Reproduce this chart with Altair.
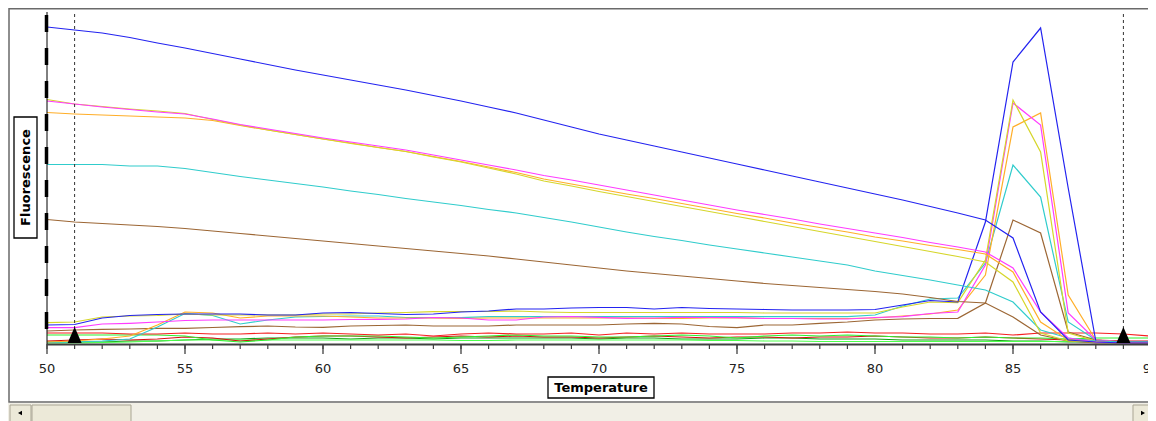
import altair as alt
import pandas as pd

# ---------------- data ----------------
temps = list(range(50, 91))          # temperature steps (deg C)
major_ticks = [50, 55, 60, 65, 70, 75, 80, 85, 90]
marker_temps = [51, 89]               # dashed analysis-window markers

# melt (raw) curves
blue_raw = [317, 314, 311, 306.5, 301, 296, 290.5, 285, 279.5, 274,
            269, 264, 259, 254, 248.5, 243, 237, 231, 224, 217,
            210, 204, 198, 192, 186, 180, 174, 168, 162, 156,
            150, 144, 137.5, 131, 124, 106, 32, 4, 2, 1, 1]
magenta_raw = [243, 240, 237, 234.5, 232, 230, 225, 219.5, 215, 210.5,
               206, 202, 198, 194, 189, 184, 179, 174, 168.5, 164,
               159, 154, 149, 144, 139, 134, 129.5, 125, 120, 115.5,
               111, 106.5, 101.5, 97, 92, 76, 32, 6, 2, 1, 1]
yellow_raw = [244.5, 240, 237.5, 235, 233, 230.5, 224.5, 219, 214, 209.5,
              205, 200.5, 196.5, 192.5, 187, 182, 176, 170, 163, 158,
              152.5, 147.5, 142.5, 137.5, 132.5, 127.5, 122.5, 117.5, 112.5, 107.5,
              102.5, 97.5, 92.5, 87.5, 82, 62, 11, 3, 2, 1, 1]
orange_raw = [231.5, 230, 229, 228, 227, 226, 223.5, 218.5, 214, 209.5,
              205, 201, 196.5, 192.5, 187.5, 182.5, 177, 171.5, 165, 160,
              155, 150, 145.5, 140.5, 135.5, 130.5, 126, 121, 116.5, 112,
              107, 103, 98.5, 94.5, 90, 72, 22, 4, 2, 1, 1]
cyan_raw = [179.5, 179.5, 179.5, 178, 178, 175.5, 171.5, 167.5, 164, 160.5,
            157, 153, 149.5, 145.5, 142, 138.5, 134.5, 131, 126.5, 122,
            117, 112, 107.5, 103.5, 99, 95, 91, 87, 83, 79,
            73, 68.5, 64, 59, 54, 42, 14, 6, 3, 2, 2]
brown_raw = [124.5, 122, 120.5, 119, 117.5, 115.5, 113, 110.5, 108, 105.5,
             103, 100.5, 98, 95.5, 93, 90.5, 88, 85, 82, 79,
             76, 73, 70.5, 68, 65.5, 63, 60.5, 58.5, 56.5, 54.5,
             52.5, 50, 46.5, 42.5, 41, 27, 9, 3, 1, 1, 1]

# derivative curves
blue_d = [19, 19.5, 26, 28.5, 29.5, 30, 30, 30, 29, 29,
          31, 31.5, 30.5, 29.5, 30, 32, 33, 35, 35, 36,
          36.5, 36.5, 35, 36.5, 35.5, 35, 34.5, 34, 34, 34,
          34.5, 39, 43.5, 42, 122, 282, 316, 156, 3, 2, 2]
yellow_d = [21.3, 22, 27, 28, 28.5, 30, 29, 29, 29, 29,
            30, 30, 31, 31.5, 32.3, 32.5, 32.5, 33, 32, 31.5,
            31.5, 31.5, 31.5, 31.5, 31.5, 31.5, 31, 31, 31, 31,
            31, 37, 42, 41.3, 84, 244, 192, 11, 3, 2, 2]
magenta_d = [16.3, 16.3, 20, 20.7, 22, 23.5, 24, 24, 24, 24,
             24, 24.5, 24.7, 25, 26.5, 26, 24, 24, 27, 27.5,
             26.7, 25.7, 26, 26.7, 26.5, 26.3, 25.5, 25.5, 25, 25,
             26.5, 27.3, 30.5, 32, 79, 241, 219, 31, 4, 2, 2]
cyan_d = [1.5, 2, 3, 5, 17, 30.5, 28.5, 20, 24, 27,
          27.5, 28, 28, 26.5, 26.3, 26.3, 27.3, 27.3, 27.3, 27.3,
          27.3, 27.3, 27.3, 27.3, 27.3, 27.3, 27.3, 27.3, 27.3, 27.3,
          29, 38, 45, 46, 81, 179, 147, 22, 4, 2, 2]
orange_d = [2, 3, 5, 8, 19, 32, 31, 26, 28, 28,
            28, 27, 26, 26, 26, 25.5, 26, 26, 26, 26,
            26, 26, 25.5, 25.5, 26, 26, 25.5, 25.5, 25.5, 25.5,
            26, 28, 30, 34, 69, 217, 231, 49, 4, 2, 2]
brown_d = [13, 14, 14.7, 15, 15.7, 15.7, 16.5, 17.3, 18, 17,
           16.7, 18, 18.5, 19, 18, 18, 18, 19, 19, 19,
           19, 20, 20.7, 20, 17.5, 16.3, 19, 19, 20.7, 22,
           24, 25, 25.5, 25.7, 41, 124, 111, 12, 4, 2, 2]

# negative controls
red_1 = [11, 11, 11, 10, 10, 11, 10, 10, 11, 10,
         11, 10, 9, 10, 8, 10, 11, 10, 10, 11,
         9, 11, 10, 11, 10, 10, 10, 11, 11, 12,
         11, 11, 10, 10, 11, 9, 11, 11, 11, 10, 8]
red_2 = [3, 4, 5, 4, 5, 7, 6, 3, 5, 7,
         8, 8, 7, 6, 7, 8, 7, 8, 7, 7,
         6, 7, 8, 7, 6, 7, 7, 6, 7, 7,
         8, 7, 6, 6, 7, 6, 5, 4, 4, 3, 3]
lime_1 = [9, 9, 9, 9, 9, 8, 4, 2, 4, 7,
          8, 8, 8, 7, 6, 7, 8, 9, 8, 8,
          7, 7, 8, 9, 8, 6, 8, 9, 8, 9,
          8, 7, 7, 6, 7, 6, 6, 5, 6, 6, 6]
lime_2 = [1, 1, 1.5, 2, 3, 4, 4, 4, 4, 4,
          4, 4, 4, 4, 4, 3.5, 3.5, 4, 4, 4,
          4, 4, 4, 4, 3.5, 3.5, 3, 3, 2.5, 2.5,
          2.5, 2.5, 2.5, 2.5, 2.5, 2.5, 2.5, 2.5, 2.5, 2.5, 2.5]
dgreen = [2, 2, 2, 3, 3, 4, 5, 5, 6, 6,
          6, 5, 6, 6, 5, 6, 6, 6, 6, 6,
          5, 6, 6, 5, 5, 5, 6, 6, 5, 5,
          5, 4, 4, 4, 4, 3, 3, 2, 2, 1, 1]

series = [
    ("dgreen", dgreen, "#12A012"),
    ("lime_2", lime_2, "#4CFF4C"),
    ("red_2", red_2, "#D41010"),
    ("lime_1", lime_1, "#2EF02E"),
    ("red_1", red_1, "#F52020"),
    ("brown_d", brown_d, "#9C6634"),
    ("cyan_d", cyan_d, "#30CCCC"),
    ("orange_d", orange_d, "#FFAE28"),
    ("magenta_d", magenta_d, "#FF3CFF"),
    ("yellow_d", yellow_d, "#D6D62A"),
    ("blue_d", blue_d, "#2323F0"),
    ("brown_raw", brown_raw, "#9C6634"),
    ("cyan_raw", cyan_raw, "#30CCCC"),
    ("orange_raw", orange_raw, "#FFAE28"),
    ("yellow_raw", yellow_raw, "#D6D62A"),
    ("magenta_raw", magenta_raw, "#FF3CFF"),
    ("blue_raw", blue_raw, "#2323F0"),
]

rows = []
for i, (name, vals, _c) in enumerate(series):
    for t, v in zip(temps, vals):
        rows.append({"series": name, "ord": i, "temp": t, "fluor": v})
df = pd.DataFrame(rows)

names = [s[0] for s in series]
colors = [s[2] for s in series]

# The window allows 1140 px of page width: the visible view is 1101 px wide, while the
# x scale spans 1104 px so that 90 sits right at the window's edge as in the reference.
W, XR, H = 1101, 1104, 332
xs = alt.Scale(domain=[50, 90], range=[0, XR], nice=False, zero=False)
ys = alt.Scale(domain=[0, 332], nice=False, zero=False)
one = alt.Data(values=[{}])

# ---------------- chrome ----------------
frame = alt.Chart(one).mark_rect(fill="white", stroke="#6A6A6A", strokeWidth=1.5).encode(
    x=alt.value(-38), x2=alt.value(1125), y=alt.value(-3.2), y2=alt.value(390))
track = alt.Chart(one).mark_rect(fill="#F1EFE6").encode(
    x=alt.value(-40), x2=alt.value(1112), y=alt.value(391), y2=alt.value(412))
btn_left = alt.Chart(one).mark_rect(fill="#ECE9D8", stroke="#A9A593", strokeWidth=1).encode(
    x=alt.value(-37), x2=alt.value(-16), y=alt.value(393), y2=alt.value(412))
btn_thumb = alt.Chart(one).mark_rect(fill="#ECE9D8", stroke="#A9A593", strokeWidth=1).encode(
    x=alt.value(-15), x2=alt.value(84), y=alt.value(393), y2=alt.value(412))
btn_right = alt.Chart(one).mark_rect(fill="#ECE9D8", stroke="#A9A593", strokeWidth=1).encode(
    x=alt.value(1086), x2=alt.value(1106), y=alt.value(393), y2=alt.value(412))
arr_left = alt.Chart(one).mark_point(shape="triangle-left", filled=True, color="black",
                                     opacity=1, size=22).encode(x=alt.value(-27), y=alt.value(401))
arr_right = alt.Chart(one).mark_point(shape="triangle-right", filled=True, color="black",
                                      opacity=1, size=22).encode(x=alt.value(1096), y=alt.value(401))

# ---------------- x axis drawn from the tick lists ----------------
domain_line = alt.Chart(one).mark_rule(color="#404040", strokeWidth=2).encode(
    x=alt.value(0), x2=alt.value(XR + 2), y=alt.value(H + 0.5))
minor = alt.Chart(pd.DataFrame({"t": temps})).mark_rule(color="#404040", strokeWidth=1.2).encode(
    x=alt.X("t:Q", scale=xs, axis=None), y=alt.value(H), y2=alt.value(H + 5))
major = alt.Chart(pd.DataFrame({"t": major_ticks})).mark_rule(color="#404040", strokeWidth=1.3).encode(
    x=alt.X("t:Q", scale=xs, axis=None), y=alt.value(H), y2=alt.value(H + 10))
labels = alt.Chart(pd.DataFrame({"t": major_ticks})).mark_text(
    font="DejaVu Sans", fontSize=13, color="#222222", align="center", baseline="middle").encode(
    x=alt.X("t:Q", scale=xs, axis=None), y=alt.value(H + 25), text="t:Q")

lines = alt.Chart(df).mark_line(strokeWidth=1.2).encode(
    x=alt.X("temp:Q", scale=xs, axis=None),
    y=alt.Y("fluor:Q", scale=ys, axis=None),
    color=alt.Color("series:N", scale=alt.Scale(domain=names, range=colors), legend=None),
    order=alt.Order("ord:Q"),
)

yline = alt.Chart(one).mark_rule(color="black", strokeWidth=1).encode(
    x=alt.value(0), y=alt.value(0), y2=alt.value(H))
ydash = alt.Chart(one).mark_rule(color="black", strokeWidth=3.5, strokeDash=[17, 16]).encode(
    x=alt.value(-0.5), y=alt.value(3), y2=alt.value(H))

mk = pd.DataFrame({"t": marker_temps})
markers = alt.Chart(mk).mark_rule(color="#333333", strokeWidth=1, strokeDash=[3, 3]).encode(
    x=alt.X("t:Q", scale=xs, axis=None), y=alt.value(2), y2=alt.value(H))
tris = alt.Chart(mk).mark_point(shape="M0,-1L0.875,1L-0.875,1Z", filled=True, color="black",
                                opacity=1, size=256).encode(
    x=alt.X("t:Q", scale=xs, axis=None), y=alt.value(H - 9))

# axis title boxes
ybox = alt.Chart(one).mark_rect(fill="white", stroke="black", strokeWidth=1.3).encode(
    x=alt.value(-33), x2=alt.value(-10), y=alt.value(105), y2=alt.value(226))
ytext = alt.Chart(one).mark_text(text="Fluorescence", angle=270, font="DejaVu Sans",
                                 fontSize=13, fontWeight="bold", color="black",
                                 align="center", baseline="middle").encode(
    x=alt.value(-21), y=alt.value(165.5))
xbox = alt.Chart(one).mark_rect(fill="white", stroke="black", strokeWidth=1.3).encode(
    x=alt.value(501), x2=alt.value(607), y=alt.value(365), y2=alt.value(386))
xtext = alt.Chart(one).mark_text(text="Temperature", font="DejaVu Sans", fontSize=13,
                                 fontWeight="bold", color="black",
                                 align="center", baseline="middle").encode(
    x=alt.value(554), y=alt.value(376))

chart = alt.layer(
    frame, track, btn_left, btn_thumb, btn_right, arr_left, arr_right,
    lines, domain_line, minor, major, labels, markers, tris, yline, ydash,
    ybox, ytext, xbox, xtext
).properties(
    width=W, height=H,
    padding={"left": 39, "top": 4, "right": 0, "bottom": 77},
    autosize=alt.AutoSizeParams(type="none"),
    background="white",
).configure_view(stroke=None)

chart.save("out.html", embed_options={"renderer": "svg", "actions": False})
